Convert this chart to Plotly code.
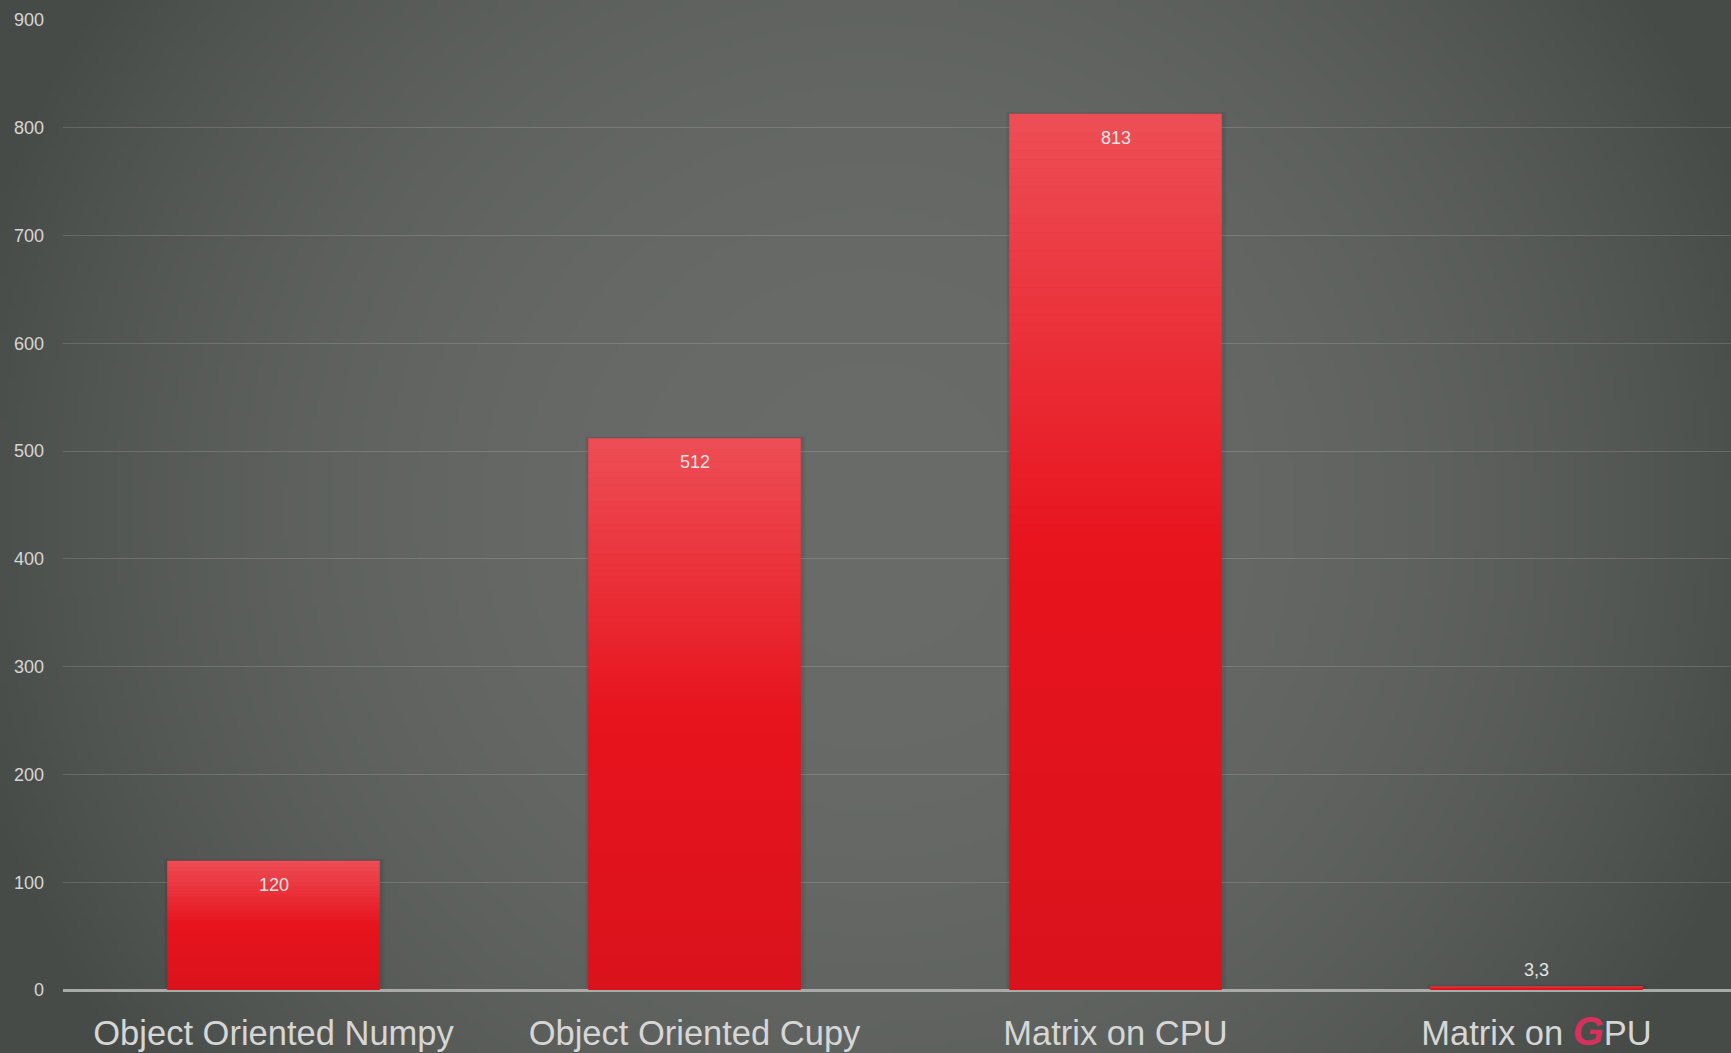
import base64, struct, zlib
import numpy as np
import plotly.graph_objects as go

# ---- data ----
categories = ["Object Oriented Numpy", "Object Oriented Cupy", "Matrix on CPU", "Matrix on GPU"]
tick_labels = ["Object Oriented Numpy", "Object Oriented Cupy", "Matrix on CPU",
               "Matrix on <span style='color:#d8305c;font-size:40px'><b><i>G</i></b></span>PU"]
values = [120, 512, 813, 3.3]
value_labels = ["120", "512", "813", "3,3"]
y_ticks = [0, 100, 200, 300, 400, 500, 600, 700, 800, 900]

W, H = 1731, 1053

# ---- radial gradient background as PNG data URI ----
def make_png(arr):
    h, w, _ = arr.shape
    raw = b"".join(b"\x00" + arr[r].astype(np.uint8).tobytes() for r in range(h))
    def chunk(t, d):
        return struct.pack(">I", len(d)) + t + d + struct.pack(">I", zlib.crc32(t + d) & 0xffffffff)
    ihdr = struct.pack(">IIBBBBB", w, h, 8, 2, 0, 0, 0)
    png = b"\x89PNG\r\n\x1a\n" + chunk(b"IHDR", ihdr) + chunk(b"IDAT", zlib.compress(raw, 9)) + chunk(b"IEND", b"")
    return "data:image/png;base64," + base64.b64encode(png).decode()

gw, gh = 346, 210
yy, xx = np.mgrid[0:gh, 0:gw]
px = (xx + 0.5) * W / gw
py = (yy + 0.5) * H / gh
d = np.sqrt((px - 870) ** 2 + (py - 510) ** 2)
t = np.clip((d / 930) ** 2.3, 0, 1)[..., None]
c_in = np.array([104, 107, 103], float)
c_out = np.array([71, 75, 72], float)
img = c_in * (1 - t) + c_out * t
bg_uri = make_png(np.round(img))

bw = 0.505
fig = go.Figure()
fig.add_trace(go.Bar(
    x=categories, y=values,
    marker=dict(color="#e8141e", line=dict(width=0)),
    width=bw, hoverinfo="skip",
))

shapes = []
for i, v in enumerate(values):
    # soft shadow
    for s, a in [(0.012, 0.04), (0.007, 0.05)]:
        shapes.append(dict(type="rect", xref="x", yref="y", layer="below",
                           x0=i - bw / 2 - s * 0.6, x1=i + bw / 2 + s, y0=0, y1=v + s * 150,
                           fillcolor=f"rgba(0,0,0,{a})", line=dict(width=0)))
    # light gradient on upper part
    n = 48
    top_frac = 0.5
    for k in range(n):
        y1 = v - v * top_frac * k / n
        y0 = v - v * top_frac * (k + 1) / n
        a = 0.25 * (1 - (k + 0.5) / n)
        shapes.append(dict(type="rect", xref="x", yref="y", layer="above",
                           x0=i - bw / 2, x1=i + bw / 2, y0=y0, y1=y1,
                           fillcolor=f"rgba(255,255,255,{a:.3f})", line=dict(width=0)))
    # slight darkening at bottom
    for k in range(16):
        y0 = v * 0.5 * k / 16
        y1 = v * 0.5 * (k + 1) / 16
        a = 0.06 * (1 - (k + 0.5) / 16)
        shapes.append(dict(type="rect", xref="x", yref="y", layer="above",
                           x0=i - bw / 2, x1=i + bw / 2, y0=y0, y1=y1,
                           fillcolor=f"rgba(0,0,0,{a:.3f})", line=dict(width=0)))

annotations = []
for i, (v, lab) in enumerate(zip(values, value_labels)):
    inside = v > 50
    annotations.append(dict(
        x=categories[i], y=v, xref="x", yref="y", text=lab, showarrow=False,
        yanchor="top" if inside else "bottom", yshift=-12 if inside else 4,
        font=dict(family="Liberation Sans, Arial, sans-serif", size=18, color="#e4e4e4"),
    ))

fig.update_layout(
    width=W, height=H,
    margin=dict(l=63, r=0, t=20, b=63),
    paper_bgcolor="#545854", plot_bgcolor="rgba(0,0,0,0)",
    images=[dict(source=bg_uri, xref="paper", yref="paper", x=-63 / (W - 63), y=1 + 20 / (H - 83),
                 sizex=W / (W - 63), sizey=H / (H - 83), xanchor="left", yanchor="top",
                 sizing="stretch", layer="below")],
    shapes=shapes, annotations=annotations,
    showlegend=False,
    xaxis=dict(tickmode="array", tickvals=categories, ticktext=tick_labels, range=[-0.5, 3.462],
               tickfont=dict(family="Liberation Sans, Arial, sans-serif", size=34.5, color="#d6d6d6"),
               showgrid=False, showline=False, ticks="", ticklabelstandoff=19, fixedrange=True),
    yaxis=dict(range=[0, 900], tickvals=y_ticks, showgrid=True, gridcolor="rgba(255,255,255,0.14)",
               gridwidth=1.3, zeroline=True, zerolinecolor="#a9aba8", zerolinewidth=2.5,
               tickfont=dict(family="Liberation Sans, Arial, sans-serif", size=18, color="#d6d6d6"),
               ticks="", ticklabelstandoff=18, fixedrange=True),
)

fig.write_html("out.html")
